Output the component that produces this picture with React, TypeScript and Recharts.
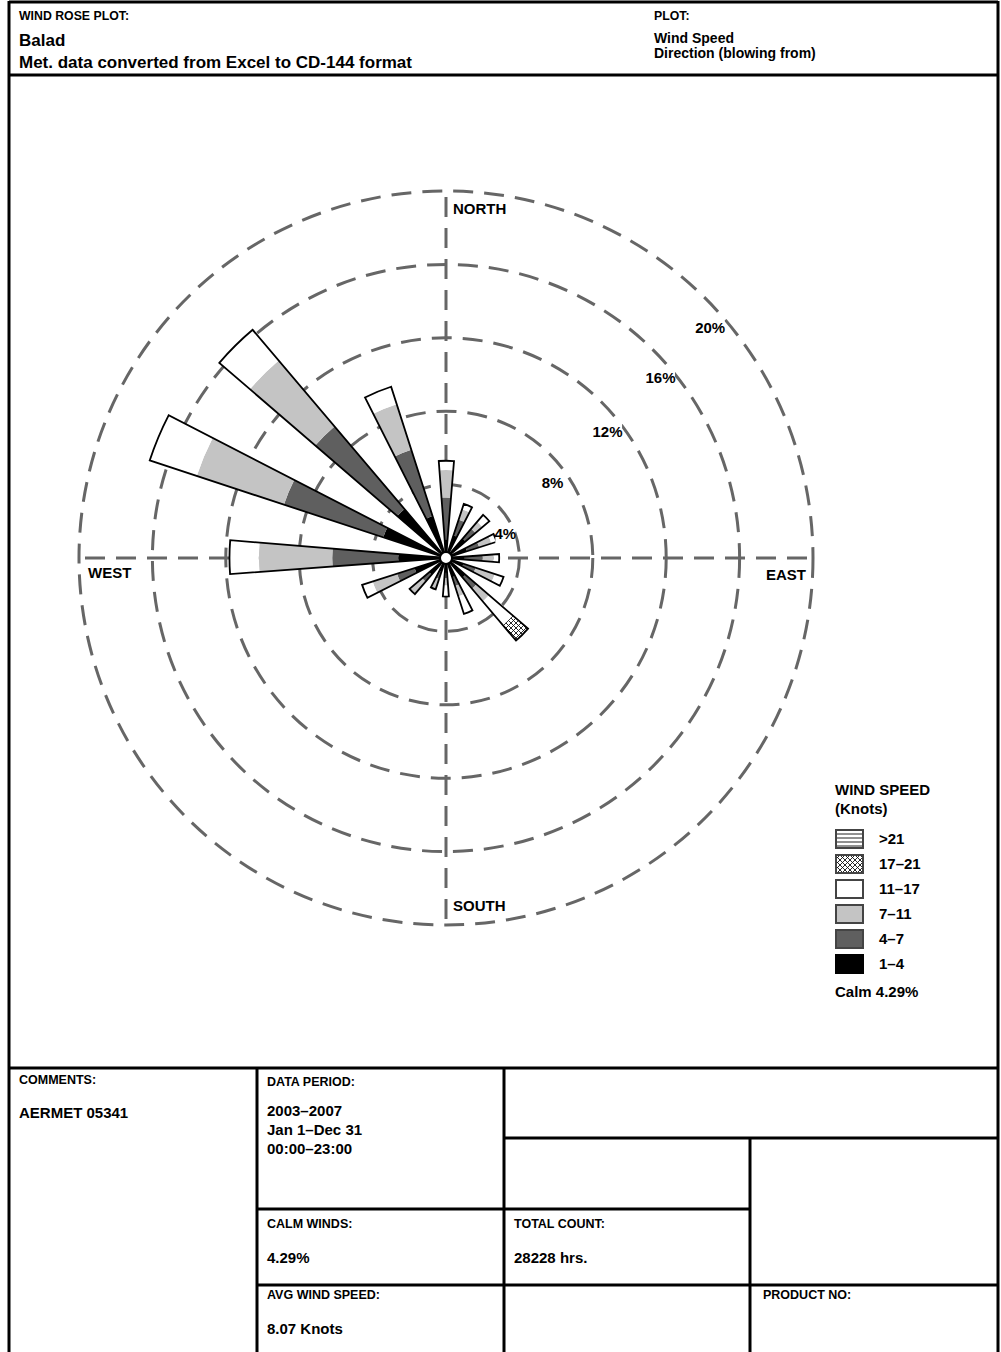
import React from 'react';
import { RadialBarChart, RadialBar, PolarAngleAxis, PolarRadiusAxis, PolarGrid } from 'recharts';

// ---- data (percent frequency per direction sector, per speed class) ----
const directions = ['N', 'NNE', 'NE', 'ENE', 'E', 'ESE', 'SE', 'SSE', 'S', 'SSW', 'SW', 'WSW', 'W', 'WNW', 'NW', 'NNW'];
const speed1to4 = [1.0, 1.3, 1.4, 1.2, 1.0, 1.0, 1.4, 1.1, 0.8, 0.8, 1.2, 1.8, 2.6, 3.6, 3.5, 2.4];
const speed4to7 = [2.3, 0.9, 0.7, 0.7, 1.0, 0.7, 0.8, 0.5, 0.3, 0.4, 0.5, 1.0, 3.6, 5.7, 5.9, 3.8];
const speed7to11 = [1.5, 0.6, 0.5, 0.7, 0.6, 1.1, 0.9, 0.6, 0.4, 0.6, 0.9, 1.4, 4.0, 5.0, 4.7, 2.6];
const speed11to17 = [0.5, 0.3, 0.5, 0.3, 0.3, 0.5, 1.7, 1.0, 0.6, 0.0, 0.0, 0.6, 1.6, 2.7, 2.2, 1.0];
const speed17to21 = [0, 0, 0, 0, 0, 0, 1.1, 0, 0, 0, 0, 0, 0, 0, 0, 0];
const speedOver21 = [0, 0, 0, 0, 0, 0, 0, 0, 0, 0, 0, 0, 0, 0, 0, 0];

const ringValues = [4, 8, 12, 16, 20];
const ringLabels = ['4%', '8%', '12%', '16%', '20%'];
const legendLabels = ['>21', '17–21', '11–17', '7–11', '4–7', '1–4'];
const calmText = 'Calm 4.29%';

const data = directions.map((dir, i) => ({
  dir,
  s1: speed1to4[i],
  s2: speed4to7[i],
  s3: speed7to11[i],
  s4: speed11to17[i],
  s5: speed17to21[i],
  s6: speedOver21[i],
  total: speed1to4[i] + speed4to7[i] + speed7to11[i] + speed11to17[i] + speed17to21[i] + speedOver21[i],
}));

// ---- layout ----
const CX = 446;
const CY = 558;
const R = 367;
const MAX = 20;
const SIZE = 800;
const START = 90 - 360 / directions.length / 2;
const END = START - 360;
const FONT = '"Liberation Sans", Arial, Helvetica, sans-serif';
const GAP = '29%';

const FILL_1 = '#000000';
const FILL_2 = '#5f5f5f';
const FILL_3 = '#c4c4c4';
const FILL_4 = '#ffffff';
const FILL_5 = 'url(#crossHatch)';
const FILL_6 = 'url(#hLines)';
const legendFills = [FILL_6, FILL_5, FILL_4, FILL_3, FILL_2, FILL_1];

// ring label placement (angle clockwise from north, distance from centre)
const ringLabelPos = [
  { ang: 68, dist: 64 },
  { ang: 55, dist: 130 },
  { ang: 52, dist: 205 },
  { ang: 50, dist: 280 },
  { ang: 49, dist: 350 },
];

function Axes() {
  return (
    <>
      <PolarAngleAxis type="category" dataKey="dir" tick={false} axisLine={false} tickLine={false} />
      <PolarRadiusAxis type="number" domain={[0, MAX]} tick={false} axisLine={false} tickLine={false} />
    </>
  );
}

export default function App() {
  const chartProps = {
    width: SIZE,
    height: SIZE,
    data,
    layout: 'centric' as const,
    cx: SIZE / 2,
    cy: SIZE / 2,
    innerRadius: 0,
    outerRadius: R,
    startAngle: START,
    endAngle: END,
    barCategoryGap: GAP,
    margin: { top: 0, right: 0, bottom: 0, left: 0 },
  };

  const txt = (x: number, y: number, s: string, size: number, anchor: 'start' | 'middle' = 'start', key?: string) => (
    <text key={key} x={x} y={y} fontSize={size} fontWeight="bold" fontFamily={FONT} textAnchor={anchor} fill="#000">
      {s}
    </text>
  );

  return (
    <div style={{ position: 'absolute', left: 0, top: 0, width: 1001, height: 1352, background: '#fff', overflow: 'hidden' }}>
      {/* rose: stacked speed classes */}
      <div style={{ position: 'absolute', left: CX - SIZE / 2, top: CY - SIZE / 2 }}>
        <RadialBarChart {...chartProps}>
          <PolarGrid
            gridType="circle"
            polarRadius={ringValues.map((v) => (v / MAX) * R)}
            polarAngles={[0, 90, 180, 270]}
            stroke="#666"
            strokeWidth={3}
            strokeDasharray="20 11"
          />
          <Axes />
          <RadialBar dataKey="s1" stackId="w" fill={FILL_1} isAnimationActive={false} />
          <RadialBar dataKey="s2" stackId="w" fill={FILL_2} isAnimationActive={false} />
          <RadialBar dataKey="s3" stackId="w" fill={FILL_3} isAnimationActive={false} />
          <RadialBar dataKey="s4" stackId="w" fill={FILL_4} isAnimationActive={false} />
          <RadialBar dataKey="s5" stackId="w" fill={FILL_5} isAnimationActive={false} />
          <RadialBar dataKey="s6" stackId="w" fill={FILL_6} isAnimationActive={false} />
        </RadialBarChart>
      </div>
      {/* rose: outline of totals */}
      <div style={{ position: 'absolute', left: CX - SIZE / 2, top: CY - SIZE / 2 }}>
        <RadialBarChart {...chartProps}>
          <Axes />
          <RadialBar dataKey="total" fill="none" stroke="#000" strokeWidth={1.8} isAnimationActive={false} />
        </RadialBarChart>
      </div>

      {/* frame, labels, legend, table */}
      <svg width={1001} height={1352} style={{ position: 'absolute', left: 0, top: 0, pointerEvents: 'none' }}>
        <defs>
          <pattern id="crossHatch" patternUnits="userSpaceOnUse" width={5} height={5}>
            <rect width={5} height={5} fill="#fff" />
            <path d="M0,0 L5,5 M5,0 L0,5 M-1,4 L1,6 M4,-1 L6,1 M-1,1 L1,-1 M4,6 L6,4" stroke="#111" strokeWidth={0.9} />
          </pattern>
          <pattern id="hLines" patternUnits="userSpaceOnUse" width={4} height={4}>
            <rect width={4} height={4} fill="#fff" />
            <line x1={0} y1={2} x2={4} y2={2} stroke="#222" strokeWidth={1} />
          </pattern>
        </defs>

        {/* calm circle */}
        <circle cx={CX} cy={CY} r={6} fill="#fff" stroke="#000" strokeWidth={2} />

        {/* compass labels */}
        {txt(453, 214, 'NORTH', 15)}
        {txt(453, 911, 'SOUTH', 15)}
        {txt(88, 578, 'WEST', 15)}
        {txt(766, 580, 'EAST', 15)}

        {/* ring labels */}
        {ringLabels.map((l, i) => {
          const a = (ringLabelPos[i].ang * Math.PI) / 180;
          const x = CX + ringLabelPos[i].dist * Math.sin(a);
          const y = CY - ringLabelPos[i].dist * Math.cos(a);
          const w = l.length * 9 + 2;
          return (
            <g key={l}>
              <rect x={x - w / 2} y={y - 9} width={w} height={18} fill="#fff" />
              {txt(x, y + 5, l, 15, 'middle')}
            </g>
          );
        })}

        {/* legend */}
        {txt(835, 795, 'WIND SPEED', 15)}
        {txt(835, 814, '(Knots)', 15)}
        {legendLabels.map((l, i) => {
          const y = 829 + i * 25;
          return (
            <g key={l}>
              <rect
                x={836}
                y={y + 1}
                width={27}
                height={18}
                fill={legendFills[i]}
                stroke={i === 5 ? '#000' : '#444'}
                strokeWidth={2}
              />
              {txt(879, y + 15, l, 15)}
            </g>
          );
        })}
        {txt(835, 997, calmText, 15)}

        {/* frame lines */}
        <g stroke="#000" strokeWidth={3} fill="none">
          <line x1={9} y1={2} x2={998} y2={2} />
          <line x1={9} y1={1} x2={9} y2={1352} />
          <line x1={998} y1={1} x2={998} y2={1352} />
          <line x1={9} y1={75} x2={998} y2={75} />
          <line x1={9} y1={1068} x2={998} y2={1068} />
          <line x1={257} y1={1068} x2={257} y2={1352} />
          <line x1={504} y1={1068} x2={504} y2={1352} />
          <line x1={504} y1={1138} x2={998} y2={1138} />
          <line x1={750} y1={1138} x2={750} y2={1352} />
          <line x1={257} y1={1209} x2={750} y2={1209} />
          <line x1={257} y1={1285} x2={998} y2={1285} />
        </g>

        {/* header */}
        {txt(19, 20, 'WIND ROSE PLOT:', 12.3)}
        {txt(19, 46, 'Balad', 17)}
        {txt(19, 68, 'Met. data converted from Excel to CD-144 format', 17)}
        {txt(654, 20, 'PLOT:', 12.3)}
        {txt(654, 43, 'Wind Speed', 14)}
        {txt(654, 58, 'Direction (blowing from)', 14)}

        {/* table */}
        {txt(19, 1084, 'COMMENTS:', 12.5)}
        {txt(19, 1118, 'AERMET 05341', 15)}
        {txt(267, 1086, 'DATA PERIOD:', 12.5)}
        {txt(267, 1116, '2003–2007', 15)}
        {txt(267, 1135, 'Jan 1–Dec 31', 15)}
        {txt(267, 1154, '00:00–23:00', 15)}
        {txt(267, 1228, 'CALM WINDS:', 12.5)}
        {txt(267, 1263, '4.29%', 15)}
        {txt(514, 1228, 'TOTAL COUNT:', 12.5)}
        {txt(514, 1263, '28228 hrs.', 15)}
        {txt(267, 1299, 'AVG WIND SPEED:', 12.5)}
        {txt(267, 1334, '8.07 Knots', 15)}
        {txt(763, 1299, 'PRODUCT NO:', 12.5)}
      </svg>
    </div>
  );
}
